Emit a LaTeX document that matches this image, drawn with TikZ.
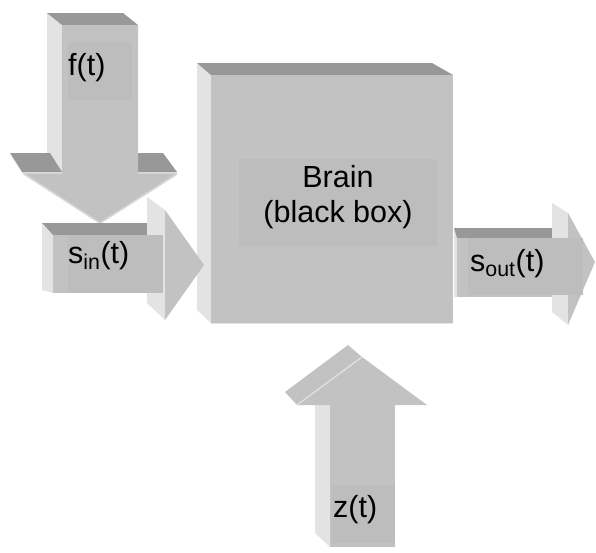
\documentclass[tikz,border=0pt]{standalone}
\usepackage{fontspec}
\setmainfont{Liberation Sans}
\definecolor{facec}{HTML}{C2C2C2}
\definecolor{topc}{HTML}{989898}
\definecolor{sidec}{HTML}{E3E3E3}
\definecolor{tbgc}{HTML}{BDBDBD}
\definecolor{lowc}{HTML}{D6D6D6}
\begin{document}
\begin{tikzpicture}[x=1pt,y=-1pt,
  frontf/.style={fill=facec},
  topf/.style={fill=topc},
  sidef/.style={fill=sidec},
  tbg/.style={fill=tbgc},
  lbl/.style={font=\fontsize{30.5}{36}\selectfont, inner sep=0pt, text=black}]
\useasboundingbox (0,0) rectangle (596,552);
\fill[white] (0,0) rectangle (596,552);

% ---- Brain box ----
\fill[sidef] (197,63) -- (211,75) -- (211,323) -- (197,310) -- cycle;
\fill[topf] (197,63) -- (432,63) -- (453,75) -- (211,75) -- cycle;
\fill[frontf] (211,75) rectangle (453,323);
\draw[sidec, line width=1pt] (211,323) -- (453,323);
\fill[tbg] (239,159) rectangle (437,246);
\node[lbl, anchor=base] (brain1) at (338,187) {Brain};
\node[lbl, anchor=base] (brain2) at (338,222) {(black box)};

% ---- f(t) down arrow ----
\fill[sidef] (47,13) -- (62,25) -- (62,172) -- (47,160) -- cycle;
\fill[topf] (47,13) -- (123,13) -- (138,25) -- (62,25) -- cycle;
\fill[topf] (10,153) -- (50,153) -- (62,172) -- (22,172) -- cycle;
\fill[topf] (138,153) -- (163,153) -- (177,172) -- (138,172) -- cycle;
\fill[lowc] (10,153) -- (22,172) -- (24,175) -- (12,157) -- cycle;
\fill[lowc] (22,172) -- (177,172) -- (177,175) -- (100,224) -- (24,175) -- cycle;
\fill[frontf] (62,25) -- (138,25) -- (138,174) -- (175,174) -- (100,222) -- (26,174) -- (62,174) -- cycle;
\fill[tbg] (68,42) rectangle (132,100);
\node[lbl, anchor=base west] (f) at (68,75) {f(t)};

% ---- s_in(t) right arrow ----
\fill[sidef] (42,224) -- (53,235) -- (53,293) -- (42,290) -- cycle;
\fill[topf] (42,223) -- (148,223) -- (163,235) -- (53,235) -- cycle;
\fill[frontf] (53,235) rectangle (163,293);
\fill[sidef] (147,197) -- (165,210) -- (165,320) -- (147,303) -- cycle;
\fill[frontf] (165,210) -- (204,265) -- (165,320) -- cycle;
\fill[tbg] (68,235) rectangle (163,293);
\node[lbl, anchor=base west] (sin) at (68,263) {s\textsubscript{in}(t)};

% ---- s_out(t) right arrow ----
\fill[sidef] (454,228) -- (457,238) -- (457,297) -- (454,297) -- cycle;
\fill[topf] (454,228) -- (553,228) -- (565,238) -- (457,238) -- cycle;
\fill[frontf] (457,238) rectangle (568,297);
\fill[sidef] (552,203) -- (568,213) -- (568,325) -- (552,312) -- cycle;
\fill[frontf] (568,213) -- (595,262) -- (568,325) -- cycle;
\fill[tbg] (468,238) rectangle (583,295);
\node[lbl, anchor=base west] (sout) at (470,271) {s\textsubscript{out}(t)};

% ---- z(t) up arrow ----
\fill[frontf] (285,392) -- (348,345) -- (362,357) -- (297,405) -- cycle;
\fill[sidef] (315,405) -- (330,405) -- (330,547) -- (315,533) -- cycle;
\fill[frontf] (330,405) rectangle (395,547);
\fill[frontf] (297,405) -- (362,357) -- (427,405) -- cycle;
\draw[sidec, line width=1.2pt] (297,405) -- (362,357);
\fill[tbg] (332,485) rectangle (395,543);
\node[lbl, anchor=base west] (z) at (333,517) {z(t)};
\end{tikzpicture}
\end{document}
